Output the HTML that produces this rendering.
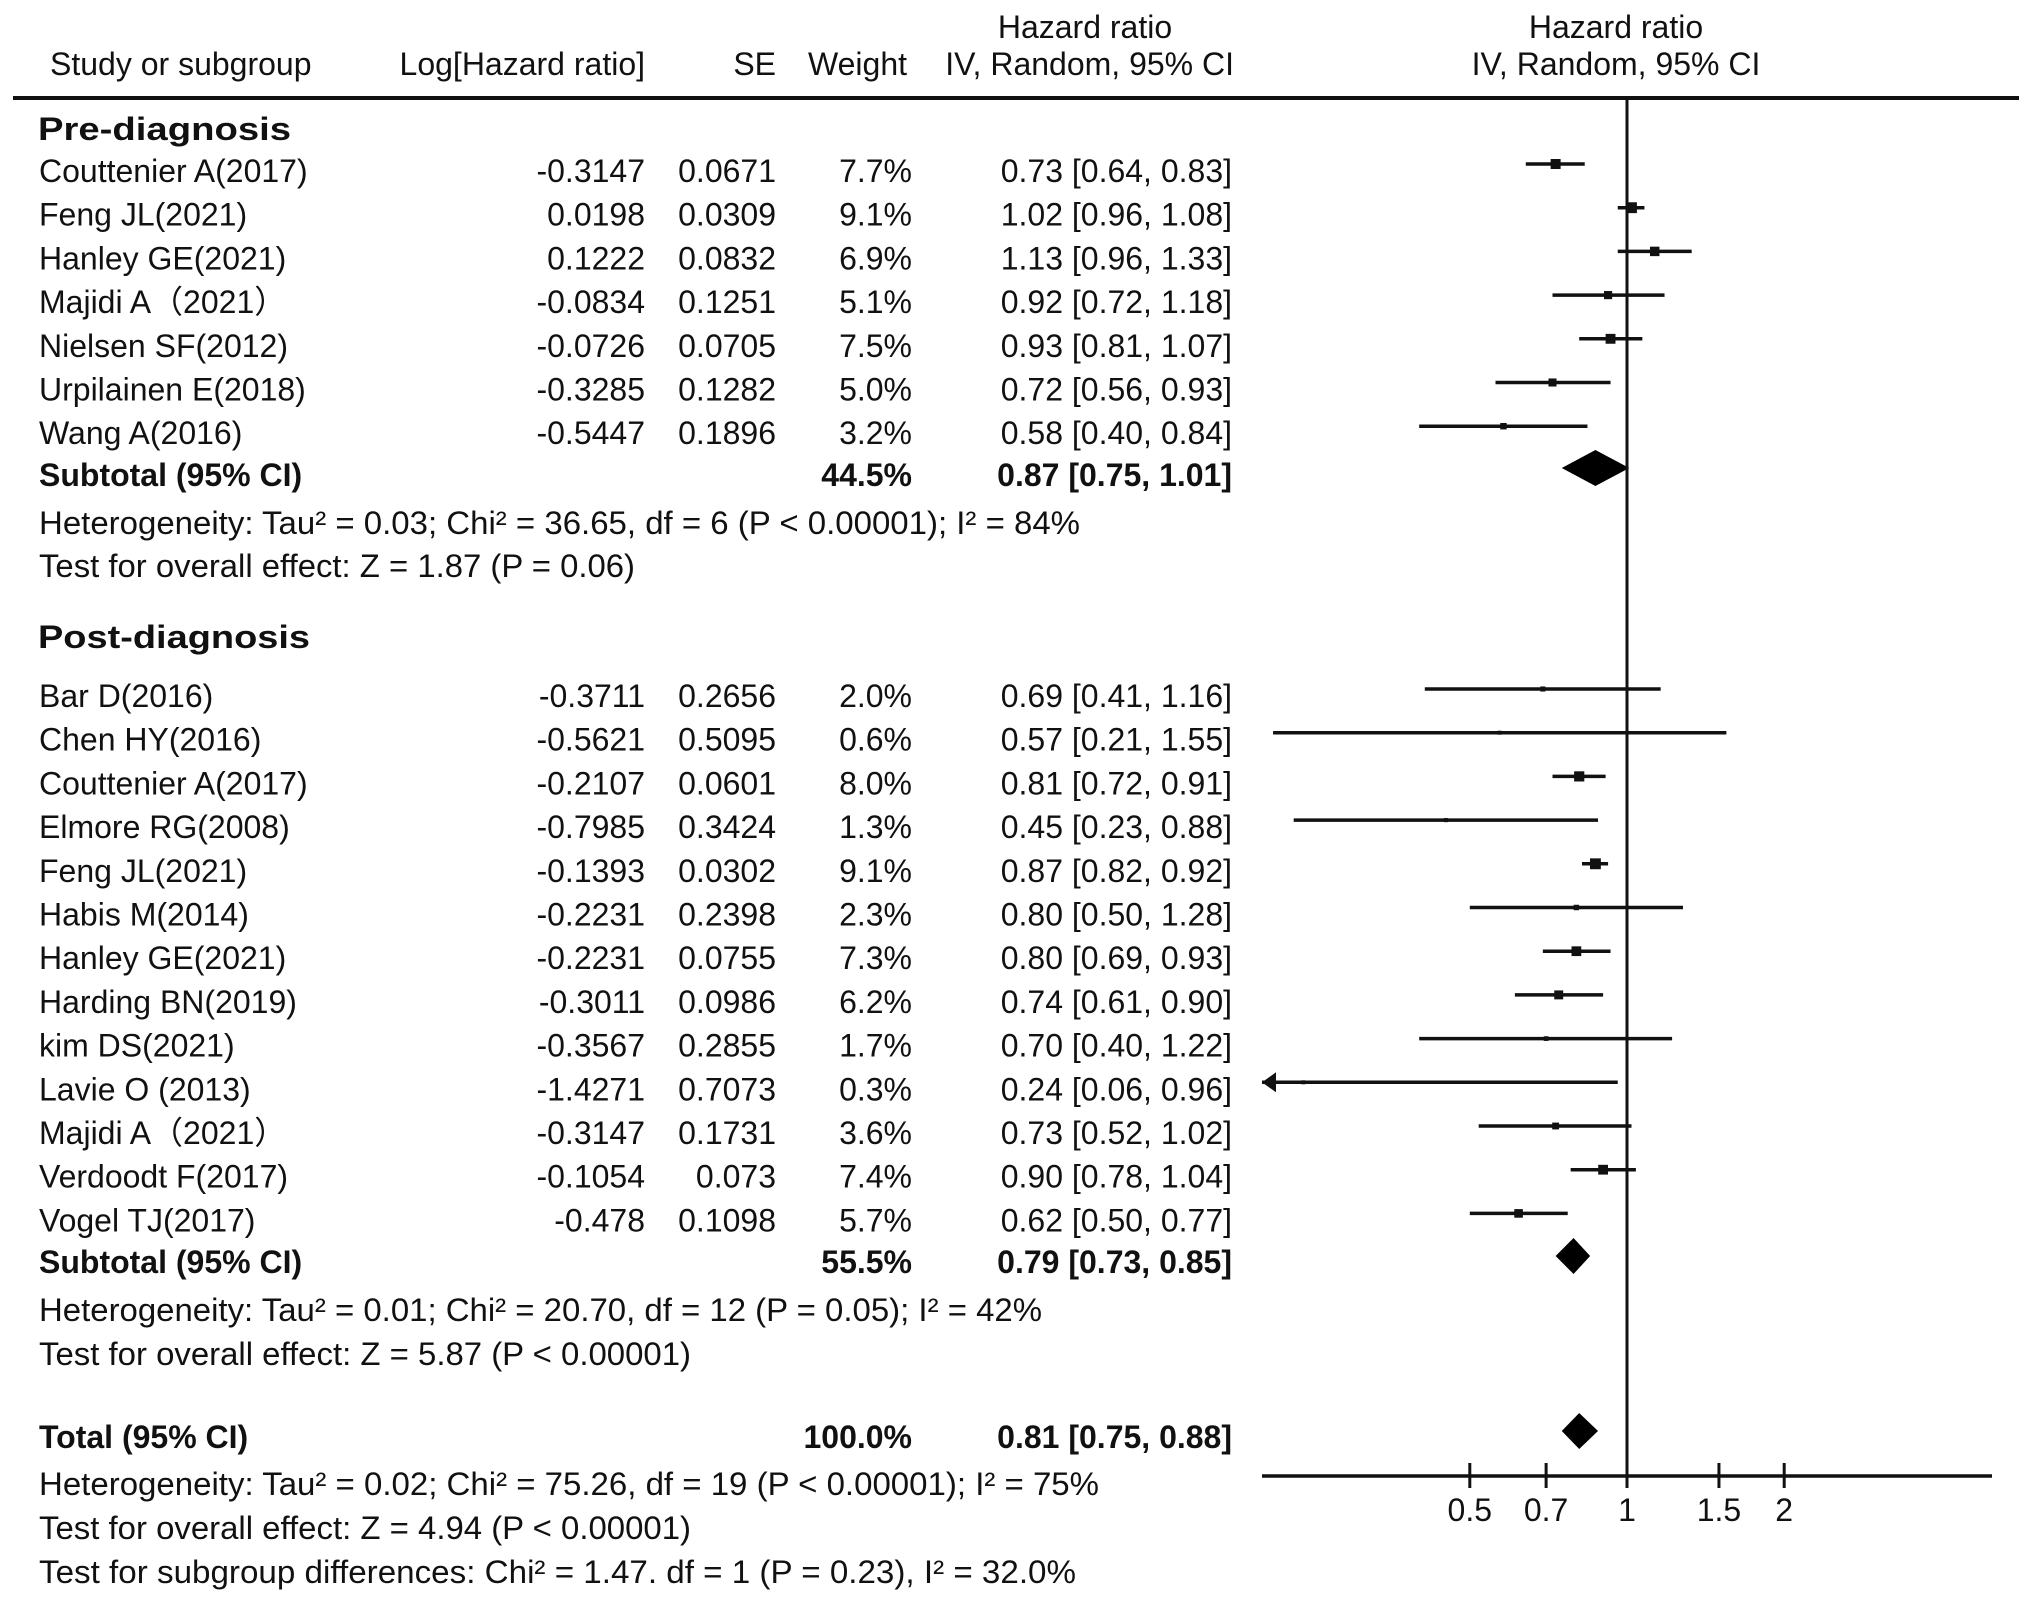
<!DOCTYPE html>
<html><head><meta charset="utf-8"><style>
html,body{margin:0;padding:0;background:#fff}
svg{display:block}
text{font-family:"Liberation Sans",Arial,sans-serif;font-size:32px;fill:#111}
.b{font-weight:bold}
</style></head><body>
<svg id="fp" width="2032" height="1605" viewBox="0 0 2032 1605">
<g>
<text x="1085" y="38" text-anchor="middle">Hazard ratio</text>
<text x="1616" y="38" text-anchor="middle">Hazard ratio</text>
<text x="50" y="75">Study or subgroup</text>
<text x="645" y="75" text-anchor="end">Log[Hazard ratio]</text>
<text x="776" y="75" text-anchor="end">SE</text>
<text x="907" y="75" text-anchor="end">Weight</text>
<text x="1234" y="75" text-anchor="end">IV, Random, 95% CI</text>
<text x="1616" y="75" text-anchor="middle">IV, Random, 95% CI</text>
</g>
<line x1="13" y1="98" x2="2019" y2="98" stroke="#111" stroke-width="4"/>
<text class="b" x="38" y="140" font-size="37" textLength="253" lengthAdjust="spacingAndGlyphs">Pre-diagnosis</text>
<text class="b" x="38" y="648" font-size="37" textLength="272" lengthAdjust="spacingAndGlyphs">Post-diagnosis</text>
<g id="rows"></g>
<g id="stats">
<text class="b" x="39" y="486">Subtotal (95% CI)</text>
<text class="b" x="912" y="486" text-anchor="end">44.5%</text>
<text class="b" x="1232" y="486" text-anchor="end">0.87 [0.75, 1.01]</text>
<text x="39" y="534" textLength="1041" lengthAdjust="spacingAndGlyphs">Heterogeneity: Tau² = 0.03; Chi² = 36.65, df = 6 (P &lt; 0.00001); I² = 84%</text>
<text x="39" y="577" textLength="596" lengthAdjust="spacingAndGlyphs">Test for overall effect: Z = 1.87 (P = 0.06)</text>
<text class="b" x="39" y="1273">Subtotal (95% CI)</text>
<text class="b" x="912" y="1273" text-anchor="end">55.5%</text>
<text class="b" x="1232" y="1273" text-anchor="end">0.79 [0.73, 0.85]</text>
<text x="39" y="1321" textLength="1003" lengthAdjust="spacingAndGlyphs">Heterogeneity: Tau² = 0.01; Chi² = 20.70, df = 12 (P = 0.05); I² = 42%</text>
<text x="39" y="1365" textLength="652" lengthAdjust="spacingAndGlyphs">Test for overall effect: Z = 5.87 (P &lt; 0.00001)</text>
<text class="b" x="39" y="1448">Total (95% CI)</text>
<text class="b" x="912" y="1448" text-anchor="end">100.0%</text>
<text class="b" x="1232" y="1448" text-anchor="end">0.81 [0.75, 0.88]</text>
<text x="39" y="1495" textLength="1060" lengthAdjust="spacingAndGlyphs">Heterogeneity: Tau² = 0.02; Chi² = 75.26, df = 19 (P &lt; 0.00001); I² = 75%</text>
<text x="39" y="1539" textLength="652" lengthAdjust="spacingAndGlyphs">Test for overall effect: Z = 4.94 (P &lt; 0.00001)</text>
<text x="39" y="1583" textLength="1037" lengthAdjust="spacingAndGlyphs">Test for subgroup differences: Chi² = 1.47. df = 1 (P = 0.23), I² = 32.0%</text>
</g>
<g id="plot"></g>
</svg>
<script>
const preNames=["Couttenier A(2017)","Feng JL(2021)","Hanley GE(2021)","Majidi A（2021）","Nielsen SF(2012)","Urpilainen E(2018)","Wang A(2016)"];
const preLog=["-0.3147","0.0198","0.1222","-0.0834","-0.0726","-0.3285","-0.5447"];
const preSE=["0.0671","0.0309","0.0832","0.1251","0.0705","0.1282","0.1896"];
const preW=[7.7,9.1,6.9,5.1,7.5,5.0,3.2];
const preHR=[0.73,1.02,1.13,0.92,0.93,0.72,0.58];
const preLo=[0.64,0.96,0.96,0.72,0.81,0.56,0.40];
const preHi=[0.83,1.08,1.33,1.18,1.07,0.93,0.84];
const postNames=["Bar D(2016)","Chen HY(2016)","Couttenier A(2017)","Elmore RG(2008)","Feng JL(2021)","Habis M(2014)","Hanley GE(2021)","Harding BN(2019)","kim DS(2021)","Lavie O (2013)","Majidi A（2021）","Verdoodt F(2017)","Vogel TJ(2017)"];
const postLog=["-0.3711","-0.5621","-0.2107","-0.7985","-0.1393","-0.2231","-0.2231","-0.3011","-0.3567","-1.4271","-0.3147","-0.1054","-0.478"];
const postSE=["0.2656","0.5095","0.0601","0.3424","0.0302","0.2398","0.0755","0.0986","0.2855","0.7073","0.1731","0.073","0.1098"];
const postW=[2.0,0.6,8.0,1.3,9.1,2.3,7.3,6.2,1.7,0.3,3.6,7.4,5.7];
const postHR=[0.69,0.57,0.81,0.45,0.87,0.80,0.80,0.74,0.70,0.24,0.73,0.90,0.62];
const postLo=[0.41,0.21,0.72,0.23,0.82,0.50,0.69,0.61,0.40,0.06,0.52,0.78,0.50];
const postHi=[1.16,1.55,0.91,0.88,0.92,1.28,0.93,0.90,1.22,0.96,1.02,1.04,0.77];
const diaHR=[0.87,0.79,0.81];
const diaLo=[0.75,0.73,0.75];
const diaHi=[1.01,0.85,0.88];
const tickVals=[0.5,0.7,1,1.5,2];
const tickLabels=["0.5","0.7","1","1.5","2"];
const axisMin=0.2, axisMax=5;

const NS="http://www.w3.org/2000/svg";
const X0=1262,X1=1992;
function xs(v){const c=Math.max(axisMin,Math.min(axisMax,v));return X0+(Math.log(c)-Math.log(axisMin))/(Math.log(axisMax)-Math.log(axisMin))*(X1-X0);}
function mk(tag,attrs,parent,txt){const e=document.createElementNS(NS,tag);for(const k in attrs)e.setAttribute(k,attrs[k]);if(txt!==undefined)e.textContent=txt;parent.appendChild(e);return e;}
const rows=document.getElementById('rows'),plot=document.getElementById('plot');
const fmt=v=>v.toFixed(2);
function drawGroup(names,logs,ses,ws,hr,lo,hi,y0){
  for(let i=0;i<names.length;i++){
    const y=y0+i*43.7, b=y+18;
    const g=mk('g',{},rows);
    
    
    mk('text',{x:39,y:b},g,names[i]);
    mk('text',{x:645,y:b,'text-anchor':'end'},g,logs[i]);
    mk('text',{x:776,y:b,'text-anchor':'end'},g,ses[i]);
    mk('text',{x:912,y:b,'text-anchor':'end'},g,ws[i].toFixed(1)+'%');
    mk('text',{x:1232,y:b,'text-anchor':'end'},g,fmt(hr[i])+' ['+fmt(lo[i])+', '+fmt(hi[i])+']');
    const l=mk('line',{x1:xs(lo[i]),x2:xs(hi[i]),y1:y,y2:y,stroke:'#111','stroke-width':3.5},plot);
    
    
    if(lo[i]<axisMin){
      const a=mk('path',{d:`M${X0} ${y} l14 -10 v20 z`,fill:'#111'},plot);
      
      
    }
    const s=Math.max(4,Math.sqrt(ws[i])*3.6);
    const r=mk('rect',{x:xs(hr[i])-s/2,y:y-s/2,width:s,height:s,fill:'#111'},plot);
    
    
  }
}
drawGroup(preNames,preLog,preSE,preW,preHR,preLo,preHi,164);
drawGroup(postNames,postLog,postSE,postW,postHR,postLo,postHi,689);
const diaY=[468,1256,1431];
for(let i=0;i<3;i++){
  const y=diaY[i];
  const d=mk('polygon',{points:`${xs(diaLo[i])},${y} ${xs(diaHR[i])},${y-18} ${xs(diaHi[i])},${y} ${xs(diaHR[i])},${y+18}`,fill:'#000'},plot);
  
  
}
const ref=mk('line',{x1:xs(1),x2:xs(1),y1:98,y2:1476,stroke:'#111','stroke-width':3},plot);


const ax=mk('line',{x1:X0,x2:X1,y1:1476,y2:1476,stroke:'#111','stroke-width':3.5},plot);


tickVals.forEach((v,i)=>{
  const t=mk('line',{x1:xs(v),x2:xs(v),y1:1463,y2:1488,stroke:'#111','stroke-width':3},plot);
  
  
  const tl=mk('text',{x:xs(v),y:1521,'text-anchor':'middle'},plot,tickLabels[i]);
  
  
});
</script>
</body></html>
